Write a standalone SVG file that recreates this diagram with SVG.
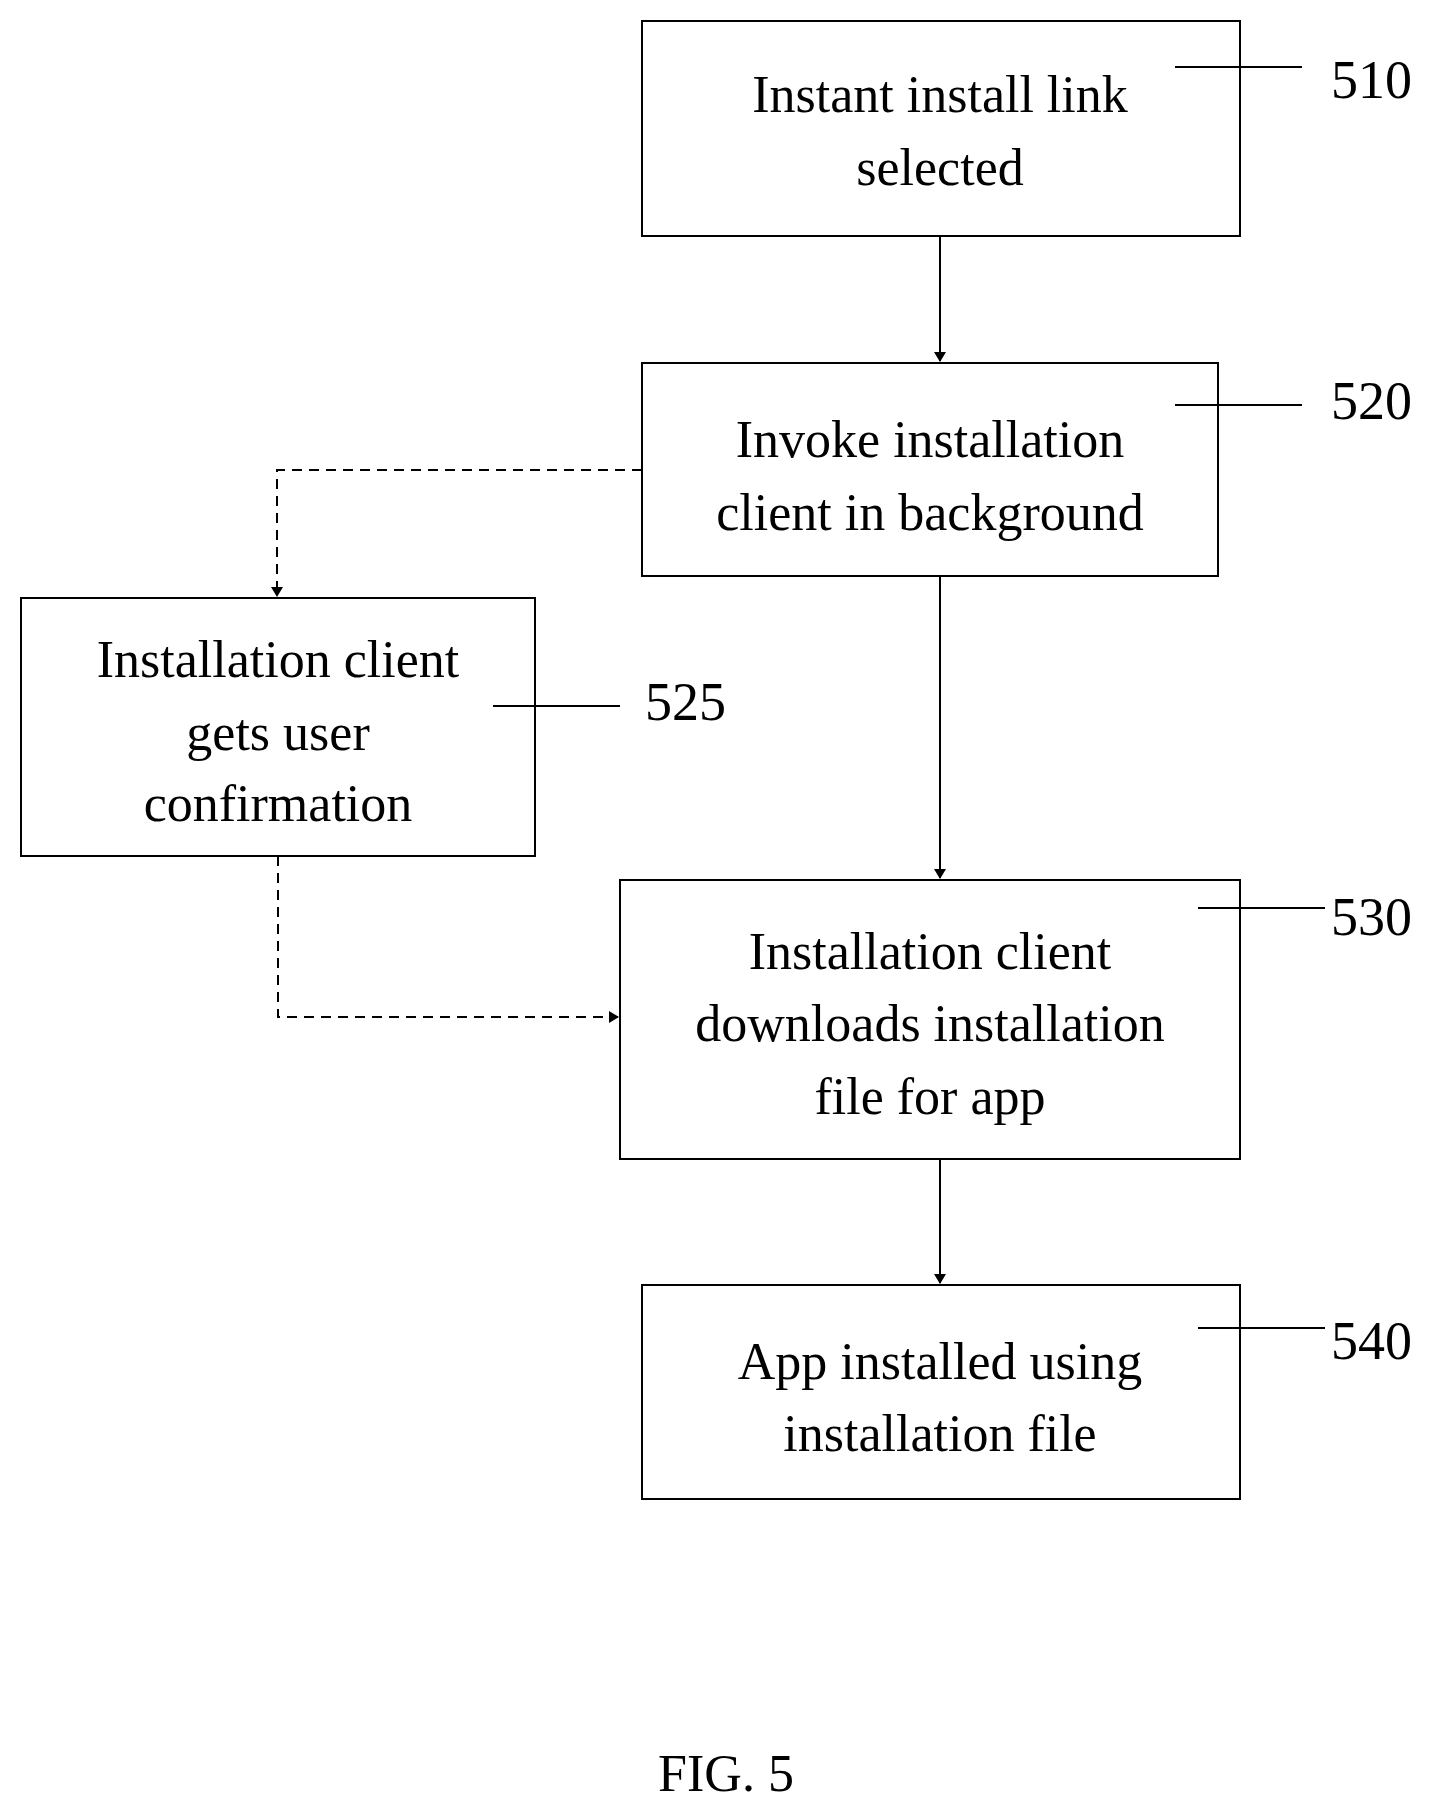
<svg xmlns="http://www.w3.org/2000/svg" width="1445" height="1802" viewBox="0 0 1445 1802">
<style>
.b{fill:#fff;stroke:#000;stroke-width:2}
.t{font-family:"Liberation Serif","Times New Roman",serif;font-size:52px;fill:#000;text-anchor:middle}
.n{font-family:"Liberation Serif","Times New Roman",serif;font-size:54px;fill:#000}
.l{stroke:#000;stroke-width:2;fill:none}
.d{stroke:#000;stroke-width:2;fill:none;stroke-dasharray:10 7}
</style>
<defs><marker id="a" markerWidth="10" markerHeight="12" refX="9" refY="6" orient="auto" markerUnits="userSpaceOnUse"><path d="M0,0 L10,6 L0,12 z" fill="#000"/></marker></defs>
<rect width="1445" height="1802" fill="#fff"/>
<g id="n510"><rect class="b" x="642" y="21" width="598" height="215"/><text class="t" x="940" y="112">Instant install link</text><text class="t" x="940" y="185">selected</text><line class="l" x1="1175" y1="67" x2="1302" y2="67"/><text class="n" x="1331" y="98">510</text></g>
<g id="n520"><rect class="b" x="642" y="363" width="576" height="213"/><text class="t" x="930" y="457">Invoke installation</text><text class="t" x="930" y="530">client in background</text><line class="l" x1="1175" y1="405" x2="1302" y2="405"/><text class="n" x="1331" y="419">520</text></g>
<g id="n525"><rect class="b" x="21" y="598" width="514" height="258"/><text class="t" x="278" y="677">Installation client</text><text class="t" x="278" y="750">gets user</text><text class="t" x="278" y="821">confirmation</text><line class="l" x1="493" y1="706" x2="620" y2="706"/><text class="n" x="645" y="720">525</text></g>
<g id="n530"><rect class="b" x="620" y="880" width="620" height="279"/><text class="t" x="930" y="969">Installation client</text><text class="t" x="930" y="1041">downloads installation</text><text class="t" x="930" y="1114">file for app</text><line class="l" x1="1198" y1="908" x2="1325" y2="908"/><text class="n" x="1331" y="935">530</text></g>
<g id="n540"><rect class="b" x="642" y="1285" width="598" height="214"/><text class="t" x="940" y="1379">App installed using</text><text class="t" x="940" y="1451">installation file</text><line class="l" x1="1198" y1="1328" x2="1325" y2="1328"/><text class="n" x="1331" y="1359">540</text></g>
<g id="connectors">
<line class="l" x1="940" y1="236" x2="940" y2="361" marker-end="url(#a)"/>
<line class="l" x1="940" y1="576" x2="940" y2="878" marker-end="url(#a)"/>
<line class="l" x1="940" y1="1159" x2="940" y2="1283" marker-end="url(#a)"/>
<path class="d" d="M642,470 H277 V596" marker-end="url(#a)"/>
<path class="d" d="M278,856 V1017 H618" marker-end="url(#a)"/>
</g>
<text class="t" x="726" y="1791">FIG. 5</text>
</svg>
